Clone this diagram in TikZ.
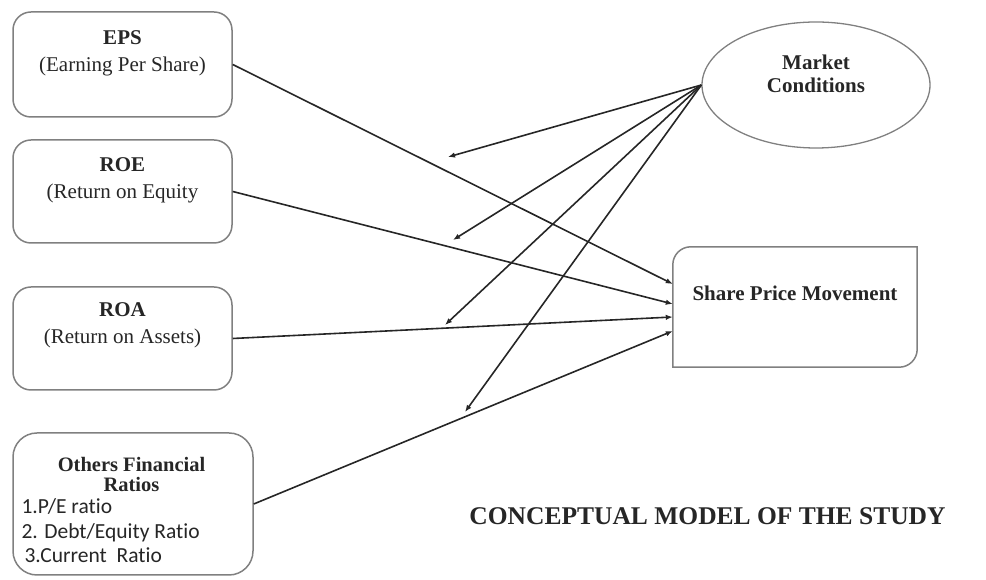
\documentclass[tikz,border=0pt]{standalone}
\usepackage{fontspec}
\setmainfont{Liberation Serif}
\newfontfamily\calibri{Carlito}[Ligatures=NoCommon]
\usetikzlibrary{shapes.geometric,arrows.meta}

\begin{document}
\begin{tikzpicture}[x=1pt,y=1pt,
    varbox/.style={draw=black!50,line width=1.5pt,rounded corners=18pt,inner sep=0pt},
    vartext/.style={align=center,font=\fontsize{21}{27}\selectfont,text=black!85},
    listtext/.style={anchor=base west,font=\calibri\fontsize{21.5}{24}\selectfont,text=black!85},
    link/.style={line width=1.6pt,draw=black!85,-{Latex[length=7pt,width=5.5pt]}}]
  \useasboundingbox (0,0) rectangle (986,580);
  % independent variables (left column)
  \node[varbox,minimum width=219,minimum height=105] (eps) at (122.5,515.5) {};
  \node[vartext] (epstxt) at (122.5,526.5) {\textbf{EPS}\\(Earning Per Share)};
  \node[varbox,minimum width=219,minimum height=103] (roe) at (122.5,388.5) {};
  \node[vartext] (roetxt) at (122.5,400) {\textbf{ROE}\\(Return on Equity};
  \node[varbox,minimum width=219,minimum height=103] (roa) at (122.5,241.5) {};
  \node[vartext] (roatxt) at (122.5,255) {\textbf{ROA}\\(Return on Assets)};
  \node[varbox,rounded corners=24pt,minimum width=240,minimum height=142] (oth) at (133,76) {};
  \node[vartext,font=\fontsize{20.5}{20}\selectfont\bfseries] (othtxt) at (131.5,106) {Others Financial\\Ratios};
  \node[listtext] (r1) at (18,66) {1.P/E ratio};
  \node[listtext] (r2) at (18,41) {2. Debt/Equity Ratio};
  \node[listtext] (r3) at (21,17) {3.Current\ \ Ratio};
  % moderating variable
  \node[ellipse,draw=black!50,line width=1.3pt,minimum width=228,minimum height=126,inner sep=0pt] (market) at (816,495) {};
  \node[vartext,font=\fontsize{21}{23}\selectfont\bfseries] (markettxt) at (816,506.5) {Market\\Conditions};
  % dependent variable, two corners rounded
  \node[minimum width=244,minimum height=120,inner sep=0pt] (share) at (795,273) {};
  \draw[draw=black!50,line width=1.5pt] (share.south west) -- ([yshift=-18pt]share.north west)
    arc[start angle=180,end angle=90,radius=18pt] -- (share.north east)
    -- ([yshift=18pt]share.south east) arc[start angle=0,end angle=-90,radius=18pt] -- cycle;
  \node[vartext,font=\fontsize{21}{25}\selectfont\bfseries] (sharetxt) at (795,287) {Share Price Movement};
  % ratios -> share price
  \draw[link] (eps.east) -- ([yshift=23pt]share.west);
  \draw[link] (roe.east) -- ([yshift=3pt]share.west);
  \draw[link] (roa.east) -- ([yshift=-10pt]share.west);
  \draw[link] (oth.east) -- ([yshift=-24pt]share.west);
  % market conditions -> free arrows
  \coordinate (m1) at (448,423);
  \coordinate (m2) at (453,340);
  \coordinate (m3) at (445,255);
  \coordinate (m4) at (465,168);
  \foreach \m in {m1,m2,m3,m4}
    \draw[link] (market.west) -- (\m);
  % caption
  \node[anchor=base,font=\fontsize{25.5}{30}\selectfont\bfseries,text=black!85] (title) at (707.5,55) {CONCEPTUAL MODEL OF THE STUDY};
\end{tikzpicture}
\end{document}
